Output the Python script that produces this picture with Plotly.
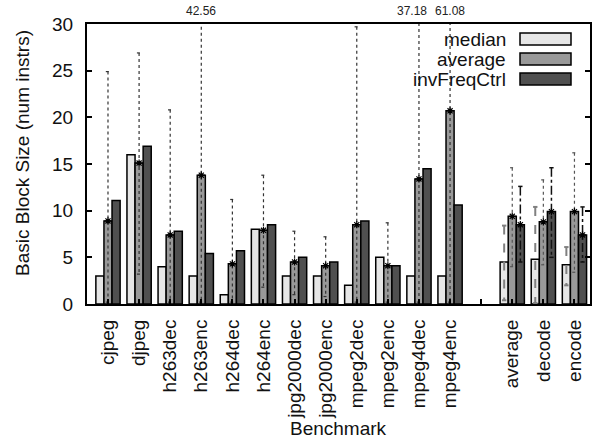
import plotly.graph_objects as go

# Benchmarks, then the three summary groups (a blank slot separates them)
benchmarks = ["cjpeg", "djpeg", "h263dec", "h263enc", "h264dec", "h264enc",
              "jpg2000dec", "jpg2000enc", "mpeg2dec", "mpeg2enc", "mpeg4dec", "mpeg4enc"]
summaries = ["average", "decode", "encode"]

# Basic block size per benchmark (num instrs)
median_vals = [3.0, 16.0, 4.0, 3.0, 1.0, 8.0, 3.0, 3.0, 2.0, 5.0, 3.0, 3.0]
average_vals = [8.9, 15.1, 7.4, 13.8, 4.3, 7.9, 4.5, 4.1, 8.5, 4.1, 13.4, 20.7]
invfreq_vals = [11.1, 16.9, 7.8, 5.4, 5.7, 8.5, 5.0, 4.5, 8.9, 4.1, 14.5, 10.6]

# Spread of the average per benchmark (low, high)
average_err_lo = [0.2, 3.2, 0.2, 0.2, 0.2, 1.8, 1.0, 0.8, 0.2, 0.2, 0.2, 0.2]
average_err_hi = [24.9, 26.9, 20.8, 42.56, 11.2, 13.8, 7.8, 7.2, 29.7, 8.7, 37.18, 61.08]

# Summary groups: values and spreads for each series
sum_median = [4.5, 4.8, 4.2]
sum_average = [9.4, 8.8, 9.9]
sum_invfreq = [8.5, 9.9, 7.4]
sum_median_lo = [0.4, 0.1, 2.0]
sum_median_hi = [8.4, 10.4, 6.1]
sum_average_lo = [4.0, 4.2, 3.4]
sum_average_hi = [14.6, 13.3, 16.2]
sum_invfreq_lo = [4.5, 5.0, 4.5]
sum_invfreq_hi = [12.6, 14.6, 10.4]

YMAX = 30
FONT = "Liberation Sans, Arial, Helvetica, sans-serif"
FS = 19
C_MED, C_AVG, C_INV = "#e6e6e6", "#999999", "#505050"
BW = 0.26                      # width of one bar (category units)
OFFS = [-1.5 * BW, -0.5 * BW, 0.5 * BW]

bench_x = list(range(len(benchmarks)))
sum_x = [len(benchmarks) + 1 + i for i in range(len(summaries))]
all_x = bench_x + sum_x
tick_vals = list(range(len(benchmarks) + 1 + len(summaries)))
tick_text = benchmarks + [""] + summaries

fig = go.Figure()

series = [
    ("median", median_vals + sum_median, C_MED),
    ("average", average_vals + sum_average, C_AVG),
    ("invFreqCtrl", invfreq_vals + sum_invfreq, C_INV),
]
for k, (name, vals, col) in enumerate(series):
    fig.add_trace(go.Bar(
        x=all_x, y=vals, name=name, width=BW, offset=OFFS[k],
        marker=dict(color=col, line=dict(color="black", width=1.5)),
        showlegend=False,
    ))


def err_path(xs, los, his, k, cap=0.07):
    px, py = [], []
    for x, lo, hi in zip(xs, los, his):
        c = x + OFFS[k] + BW / 2
        px += [c - cap, c + cap, None, c, c, None, c - cap, c + cap, None]
        py += [hi, hi, None, hi, lo, None, lo, lo, None]
    return px, py


def add_err(xs, los, his, k, color, dash, width):
    px, py = err_path(xs, los, his, k)
    fig.add_trace(go.Scatter(x=px, y=py, mode="lines", showlegend=False,
                             line=dict(color=color, dash=dash, width=width),
                             hoverinfo="skip"))


# Spread of the average for each benchmark
add_err(bench_x, average_err_lo, average_err_hi, 1, "#333333", "dot", 1.2)
# Spreads for the summary groups
add_err(sum_x, sum_median_lo, sum_median_hi, 0, "#808080", "dash", 2)
add_err(sum_x, sum_average_lo, sum_average_hi, 1, "#555555", "dot", 1.2)
add_err(sum_x, sum_invfreq_lo, sum_invfreq_hi, 2, "#111111", "dashdot", 1.5)

# Point markers at the top of the bars that carry a spread
point_marker = dict(symbol="asterisk-open", size=6, color="black",
                    line=dict(color="black", width=1.2))
fig.add_trace(go.Scatter(
    x=[x + OFFS[1] + BW / 2 for x in all_x], y=average_vals + sum_average,
    mode="markers", showlegend=False, hoverinfo="skip", marker=point_marker,
))
fig.add_trace(go.Scatter(
    x=[x + OFFS[2] + BW / 2 for x in sum_x], y=sum_invfreq,
    mode="markers", showlegend=False, hoverinfo="skip", marker=point_marker,
))

# Values of spreads that run past the top of the axis
shift = {"mpeg4dec": -7}
for x, name, hi in zip(bench_x, benchmarks, average_err_hi):
    if hi > YMAX:
        fig.add_annotation(x=x + OFFS[1] + BW / 2, y=YMAX, yref="y", text=f"{hi:.2f}",
                           showarrow=False, yanchor="bottom", yshift=4,
                           xshift=shift.get(name, 0),
                           font=dict(family=FONT, size=12, color="#222222"))

# Legend: label text to the left of a wide swatch
L, R, T, B = 87, 590, 24, 304
def px_x(p):
    return (p - L) / (R - L)
def px_y(p):
    return (B - p) / (B - T)

for i, (name, _, col) in enumerate(series):
    cy = 39 + 20 * i
    fig.add_shape(type="rect", xref="paper", yref="paper",
                  x0=px_x(520), x1=px_x(571), y0=px_y(cy + 6), y1=px_y(cy - 6),
                  fillcolor=col, line=dict(color="black", width=1.5))
    fig.add_annotation(xref="paper", yref="paper", x=px_x(508), y=px_y(cy),
                       text=name, showarrow=False, xanchor="right", yanchor="middle",
                       font=dict(family=FONT, size=FS, color="#111111"))

# Axis titles
fig.add_annotation(xref="paper", yref="paper", x=0.5, y=px_y(428),
                   text="Benchmark", showarrow=False, xanchor="center", yanchor="middle",
                   font=dict(family=FONT, size=FS, color="#111111"))
fig.add_annotation(xref="paper", yref="paper", x=px_x(22), y=px_y(153),
                   text="Basic Block Size (num instrs)", showarrow=False, textangle=-90,
                   xanchor="center", yanchor="middle",
                   font=dict(family=FONT, size=FS, color="#111111"))

fig.update_layout(
    width=597, height=440,
    margin=dict(l=L, r=597 - R, t=T, b=440 - B, autoexpand=False),
    paper_bgcolor="white", plot_bgcolor="white",
    barmode="overlay",
    font=dict(family=FONT, size=FS, color="#111111"),
    showlegend=False,
)
fig.update_xaxes(
    range=[-0.675, 15.5], tickvals=tick_vals, ticktext=tick_text,
    tickangle=-90, ticks="inside", ticklen=5, tickwidth=1.5, tickcolor="black",
    showline=True, linecolor="black", linewidth=2, mirror=True,
    showgrid=False, zeroline=False, ticklabelstandoff=6, automargin=False,
)
fig.update_yaxes(
    range=[0, YMAX], tickvals=[0, 5, 10, 15, 20, 25, 30],
    ticks="inside", ticklen=5, tickwidth=1.5, tickcolor="black",
    showline=True, linecolor="black", linewidth=2, mirror="ticks",
    showgrid=False, zeroline=False, ticklabelstandoff=8, automargin=False,
)

fig.write_html("out.html")
